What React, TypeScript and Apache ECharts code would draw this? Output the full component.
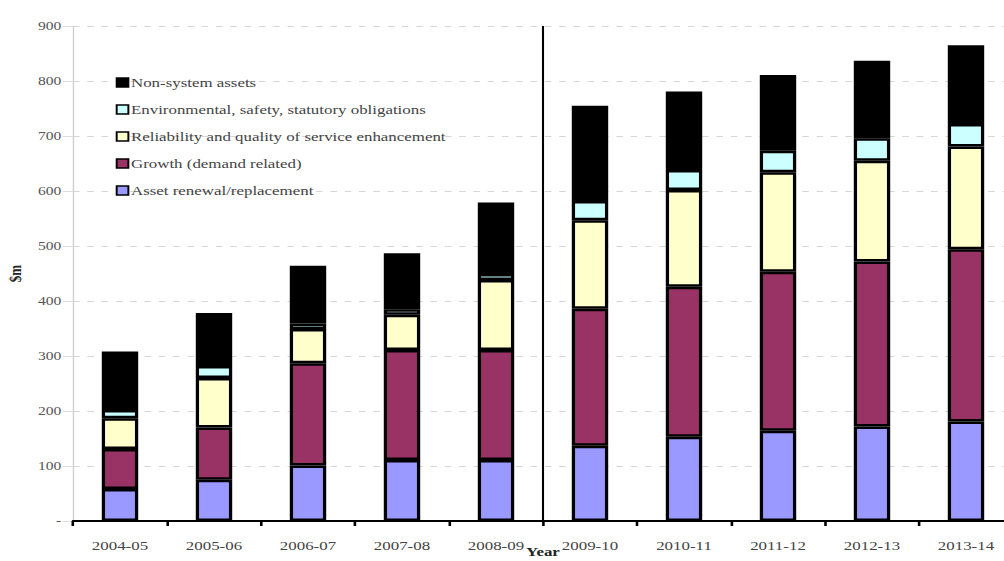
import React, { useEffect, useRef } from "react";
import * as echarts from "echarts";

const categories = ["2004-05", "2005-06", "2006-07", "2007-08", "2008-09", "2009-10", "2010-11", "2011-12", "2012-13", "2013-14"];
const assetRenewal = [58, 75, 101, 111, 111, 137, 153, 164, 172, 181];
const growth = [73, 95, 186, 200, 200, 249, 273, 289, 300, 313];
const reliability = [56, 90, 62, 64, 127, 161, 176, 181, 183, 187];
const environmental = [15, 22, 10, 10, 11, 35, 36, 39, 41, 41];
const nonSystem = [106, 96, 105, 102, 130, 173, 143, 138, 141, 143];
const legendOrder = [
  "Non-system assets",
  "Environmental, safety, statutory obligations",
  "Reliability and quality of service enhancement",
  "Growth (demand related)",
  "Asset renewal/replacement",
];

const FONT = "'Liberation Serif', 'Times New Roman', serif";
// the original picture is stretched horizontally; reproduce with a CSS scale
const SX = 1.3;
const W = Math.round(1004 / SX) + 1;

export default function App() {
  const ref = useRef<HTMLDivElement>(null);
  useEffect(() => {
    if (!ref.current) return;
    const chart = echarts.init(ref.current, undefined, { renderer: "svg" });
    const mk = (name: string, data: number[], color: string) => ({
      name,
      type: "bar",
      stack: "total",
      data,
      barWidth: 28,
      itemStyle: { color, borderColor: "#000", borderWidth: 2.5 },
    });
    const left = 73 / SX;
    const plotW = (94 * 10) / SX;
    chart.setOption({
      animation: false,
      backgroundColor: "#fff",
      textStyle: { fontFamily: FONT },
      grid: { left, top: 26, bottom: 40, right: W - left - plotW, containLabel: false, outerBoundsMode: "none" },
      legend: {
        orient: "vertical",
        left: 84,
        top: 71,
        itemWidth: 9,
        itemHeight: 9,
        itemGap: 14,
        icon: "rect",
        itemStyle: { borderColor: "#000", borderWidth: 1.5 },
        textStyle: { fontFamily: FONT, fontSize: 13, color: "#444", padding: [0, 0, 0, -3] },
        data: legendOrder,
      },
      xAxis: {
        type: "category",
        data: categories,
        axisLine: { lineStyle: { color: "#000", width: 2 } },
        axisTick: { show: true, length: 5, lineStyle: { color: "#000", width: 2 } },
        axisLabel: { fontFamily: FONT, fontSize: 13, color: "#444", margin: 18 },
      },
      yAxis: {
        type: "value",
        min: 0,
        max: 900,
        interval: 100,
        name: "$m",
        nameLocation: "middle",
        nameRotate: 90,
        nameGap: 36,
        nameTextStyle: { fontFamily: FONT, fontSize: 13, fontWeight: "bold", color: "#222" },
        axisLine: { show: true, lineStyle: { color: "#ccc", width: 1 } },
        axisTick: { show: true, length: 8, lineStyle: { color: "#ddd" } },
        axisLabel: {
          fontFamily: FONT,
          fontSize: 12,
          color: "#555",
          margin: 9,
          formatter: (v: number) => (v === 0 ? "-" : String(v)),
        },
        splitLine: { show: true, lineStyle: { color: "#d6d6d6", type: [5, 6], width: 1 } },
      },
      series: [
        mk("Asset renewal/replacement", assetRenewal, "#9999FF"),
        mk("Growth (demand related)", growth, "#993366"),
        mk("Reliability and quality of service enhancement", reliability, "#FFFFCC"),
        mk("Environmental, safety, statutory obligations", environmental, "#CCFFFF"),
        mk("Non-system assets", nonSystem, "#000000"),
      ],
    });
    const x4 = chart.convertToPixel({ xAxisIndex: 0 }, categories[4]) as number;
    const x5 = chart.convertToPixel({ xAxisIndex: 0 }, categories[5]) as number;
    const yTop = chart.convertToPixel({ yAxisIndex: 0 }, 900) as number;
    const yBot = chart.convertToPixel({ yAxisIndex: 0 }, 0) as number;
    const xm = (x4 + x5) / 2;
    chart.setOption({
      graphic: [
        { type: "line", shape: { x1: xm, y1: yTop, x2: xm, y2: yBot }, style: { stroke: "#000", lineWidth: 1.6 }, z: 10 },
        {
          type: "text",
          x: left + plotW / 2,
          y: yBot + 31,
          style: {
            text: "Year",
            fontFamily: FONT,
            fontSize: 13,
            fontWeight: "bold",
            fill: "#222",
            align: "center",
            verticalAlign: "middle",
          },
          z: 10,
        },
      ],
    });
    return () => chart.dispose();
  }, []);
  return (
    <div
      ref={ref}
      style={{ position: "fixed", left: 0, top: 0, width: W, height: 561, transform: `scaleX(${SX})`, transformOrigin: "0 0" }}
    />
  );
}
